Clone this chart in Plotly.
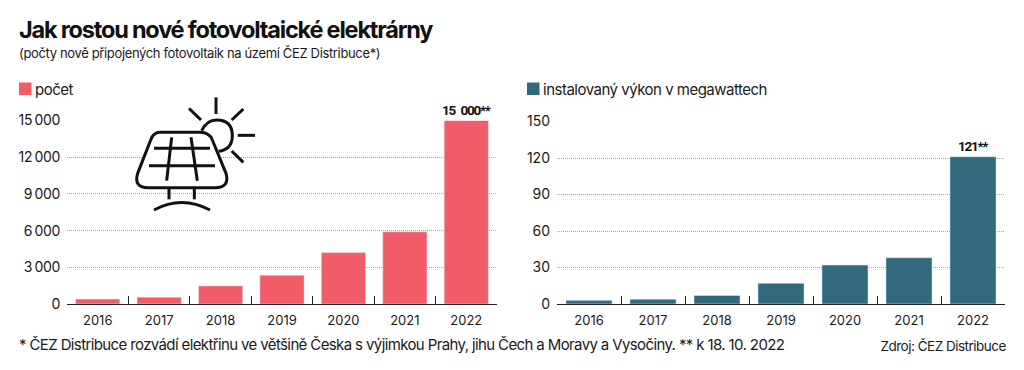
import plotly.graph_objects as go

W, H = 1024, 370
years = ["2016", "2017", "2018", "2019", "2020", "2021", "2022"]
counts = [400, 550, 1480, 2350, 4200, 5900, 15000]
count_labels = ["", "", "", "", "", "", "15\u2002000**"]
power = [3, 4, 7, 17, 32, 38, 121]
power_labels = ["", "", "", "", "", "", "121**"]
count_ticks = [0, 3000, 6000, 9000, 12000, 15000]
count_ticktext = ["0", "3\u2009000", "6\u2009000", "9\u2009000", "12\u2009000", "15\u2009000"]
power_ticks = [0, 30, 60, 90, 120, 150]
power_ticktext = ["0", "30", "60", "90", "120", "150"]
RED, TEAL = "#f25c69", "#33697c"
FONT = "Inter"
NARROW = "Roboto"
INK = "#1a1a1a"

def px(x): return x / W
def py(y): return 1 - y / H

fig = go.Figure()
fig.add_bar(x=years, y=counts, marker_color=RED, width=0.72, text=count_labels,
            textposition="outside", cliponaxis=False, constraintext="none", xaxis="x", yaxis="y",
            textfont=dict(family=NARROW, size=13.5, color="#111", weight="bold"), showlegend=False)
fig.add_bar(x=years, y=power, marker_color=TEAL, width=0.72, text=power_labels,
            textposition="outside", cliponaxis=False, constraintext="none", xaxis="x2", yaxis="y2",
            textfont=dict(family=NARROW, size=13.5, color="#111", weight="bold"), showlegend=False)

def xax(l, r, anchor):
    return dict(domain=[px(l), px(r)], anchor=anchor, type="category", tickson="boundaries",
                ticks="inside", ticklen=8, tickwidth=1, tickcolor="#222", showline=True,
                linecolor="#222", linewidth=1, showgrid=False, automargin=False,
                tickfont=dict(family=FONT, size=13, color=INK), ticklabelstandoff=4)

def yax(top, vals, txt, rng, anchor):
    return dict(domain=[py(304), py(top)], anchor=anchor, range=rng, tickvals=vals, ticktext=txt,
                showgrid=True, griddash="1px,1px", gridcolor="#a6a6a6", gridwidth=1, zeroline=False,
                showline=False, ticks="", automargin=False, ticklabelstandoff=6,
                tickfont=dict(family=FONT, size=14, color=INK))

def Z(x, y):
    # icon drawing coordinates -> figure fractions
    return f"{px(100 + x / 3):.5f},{py(90 + y / 3):.5f}"

panel = (f"M{Z(180,127)} L{Z(300,127)} Q{Z(328,127)} {Z(337,150)} L{Z(378,250)} "
         f"Q{Z(390,293)} {Z(345,293)} L{Z(145,293)} Q{Z(100,293)} {Z(113,250)} "
         f"L{Z(152,150)} Q{Z(160,127)} {Z(180,127)} Z")
sun = f"M{Z(305,122)} Q{Z(320,90)} {Z(350,90)} Q{Z(397,90)} {Z(397,137)} Q{Z(397,178)} {Z(356,184)}"
lines = [((162,175),(330,175)), ((147,227),(345,227)), ((215,142),(200,272)), ((273,142),(292,272)),
         ((207,295),(207,328)), ((283,295),(283,328)), ((348,22),(348,72)), ((430,57),(395,90)),
         ((413,136),(465,136)), ((395,183),(430,217)), ((267,55),(303,90))]
ic = dict(color="#111", width=3)
shapes = [
    dict(type="path", xref="paper", yref="paper", path=sun, line=ic, fillcolor="white"),
    dict(type="path", xref="paper", yref="paper", path=panel, line=ic, fillcolor="white"),
    dict(type="path", xref="paper", yref="paper",
         path=f"M{Z(162,360)} Q{Z(245,315)} {Z(330,360)}", line=ic),
]
for a, b in lines:
    shapes.append(dict(type="path", xref="paper", yref="paper",
                       path=f"M{Z(*a)} L{Z(*b)}", line=ic))
for x0, c in ((19, RED), (527, TEAL)):
    shapes.append(dict(type="rect", xref="paper", yref="paper", x0=px(x0), x1=px(x0 + 12.5),
                       y0=py(95), y1=py(82.5), fillcolor=c, line_width=0))

def note(text, x, y, size, anchor="left", family=FONT, color=INK):
    return dict(text=text, x=px(x), y=py(y), xref="paper", yref="paper", xanchor=anchor, align=anchor,
                yanchor="middle", showarrow=False, font=dict(family=family, size=size, color=color))

annotations = [
    note("<b>Jak rostou nové fotovoltaické elektrárny</b>", 16.5, 29.5, 23.5, color="#111"),
    note("(počty nově připojených fotovoltaik na území ČEZ Distribuce*)", 17, 53, 13),
    note("počet", 33, 89, 15),
    note("instalovaný výkon v megawattech", 541, 89, 15),
    note("* ČEZ Distribuce rozvádí elektřinu ve většině Česka s výjimkou Prahy, jihu Čech a Moravy a Vysočiny. ** k 18. 10. 2022",
         17, 344.5, 15),
    note("Zdroj: ČEZ Distribuce", 1008, 345.5, 13.5, anchor="right"),
]
spacing = [-1.2, -0.35, -0.5, -0.5, -0.62, -0.5]

fig.update_layout(
    width=W, height=H, autosize=False, margin=dict(l=0, r=0, t=0, b=0),
    paper_bgcolor="white", plot_bgcolor="white", barmode="overlay",
    xaxis=xax(67, 497, "y"), yaxis=yax(120.5, count_ticks, count_ticktext, [0, 15000], "x"),
    xaxis2=xax(557, 1005, "y2"), yaxis2=yax(121.5, power_ticks, power_ticktext, [0, 150], "x2"),
    shapes=shapes, annotations=annotations,
)
css = "".join(f".annotation[data-index='{i}'] text{{letter-spacing:{s}px}}" for i, s in enumerate(spacing))
css += ".ytick text{letter-spacing:-0.3px}.bartext{letter-spacing:-1.3px}html,body{margin:0;overflow:hidden}"
fig.write_html("out.html", config={"displayModeBar": False},
               post_script=f"var s=document.createElement('style');s.textContent=\"{css}\";document.head.appendChild(s);")
